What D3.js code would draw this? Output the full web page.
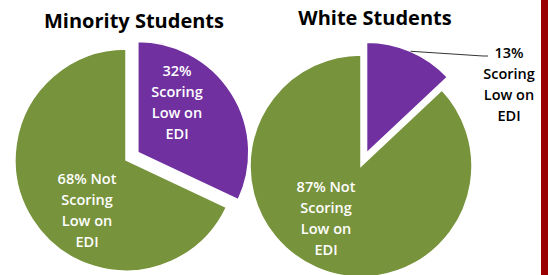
<!DOCTYPE html>
<html>
<head>
<meta charset="utf-8">
<script src="https://cdn.jsdelivr.net/npm/d3@7"></script>
<style>
  html, body { margin: 0; padding: 0; background: #fff; }
  svg { display: block; }
  text { font-family: "Open Sans", "Noto Sans", sans-serif; }
</style>
</head>
<body>
<div id="chart"></div>
<script>
// данные
const groups = ["Minority Students", "White Students"];
const scoringLow = [32, 13];
const notScoringLow = [68, 87];
const sliceNames = ["Scoring Low on EDI", "Not Scoring Low on EDI"];
const sliceColors = ["#7030A0", "#77933C"];

const width = 548, height = 275;
const svg = d3.select("#chart").append("svg")
    .attr("width", width)
    .attr("height", height);

// красная полоса справа
svg.append("rect")
    .attr("x", 541).attr("y", 0)
    .attr("width", 7).attr("height", height)
    .attr("fill", "#9B0000");

// где рисовать каждый круг
const centers = d3.scaleOrdinal().domain(groups).range([[126, 160], [361, 166]]);
const titleX = d3.scaleOrdinal().domain(groups).range([134, 375]);
const titleY = d3.scaleOrdinal().domain(groups).range([28, 25]);

const r = 111;
const explode = 14;
const arc = d3.arc().innerRadius(0).outerRadius(r);
const pie = d3.pie().sort(null).value(d => d.value);

// положение подписей относительно центра круга
const labelPos = [
  [[51, -58], [-39, 50]],
  [[148, -82], [-35, 52]]
];

groups.forEach(function(g, gi) {
    const c = centers(g);
    const data = [
        { name: sliceNames[0], value: scoringLow[gi], color: sliceColors[0] },
        { name: sliceNames[1], value: notScoringLow[gi], color: sliceColors[1] }
    ];
    const arcs = pie(data);
    const grp = svg.append("g").attr("transform", `translate(${c[0]},${c[1]})`);

    grp.selectAll("path")
        .data(arcs)
        .join("path")
        .attr("d", arc)
        .attr("fill", d => d.data.color)
        .attr("stroke", "#fff")
        .attr("stroke-width", 1.5)
        .attr("transform", function(d, i) {
            if (i !== 0) return null;
            const a = (d.startAngle + d.endAngle) / 2;
            return `translate(${Math.sin(a) * explode},${-Math.cos(a) * explode})`;
        });

    // заголовок
    svg.append("text")
        .attr("x", titleX(g))
        .attr("y", titleY(g))
        .attr("text-anchor", "middle")
        .attr("font-size", 20)
        .attr("font-weight", "bold")
        .attr("fill", "#000")
        .text(g);

    // подписи
    arcs.forEach(function(d, i) {
        const p = labelPos[gi][i];
        const outside = (gi === 1 && i === 0);
        const lines = i === 0
            ? [d.data.value + "%", "Scoring", "Low on", "EDI"]
            : [d.data.value + "% Not", "Scoring", "Low on", "EDI"];
        const t = grp.append("text")
            .attr("text-anchor", "middle")
            .attr("font-size", 14.5)
            .attr("font-weight", 600)
            .attr("fill", outside ? "#000" : "#fff");
        lines.forEach(function(line, li) {
            t.append("tspan")
                .attr("x", p[0])
                .attr("y", p[1] + (li - 1.5) * 21 + 5)
                .text(line);
        });
        if (outside) {
            // линия-выноска от края выдвинутого сектора к подписи
            const a = (d.startAngle + d.endAngle) / 2;
            const rr = r + explode;
            grp.append("polyline")
                .attr("points", [
                    [Math.sin(a) * rr, -Math.cos(a) * rr],
                    [p[0] - 26, p[1] - 28],
                    [p[0] - 21, p[1] - 28]
                ].map(q => q.join(",")).join(" "))
                .attr("fill", "none")
                .attr("stroke", "#000")
                .attr("stroke-width", 0.8);
        }
    });
});
</script>
</body>
</html>
